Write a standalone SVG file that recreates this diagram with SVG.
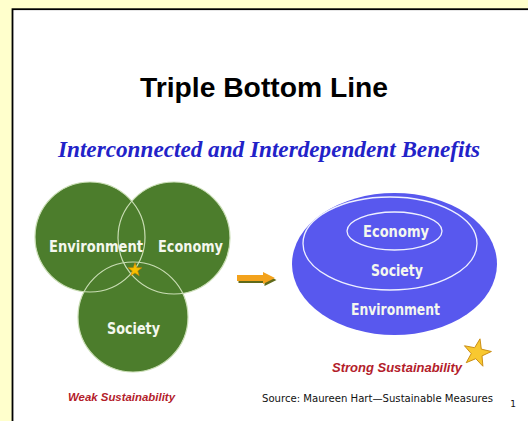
<svg xmlns="http://www.w3.org/2000/svg" width="528" height="421" viewBox="0 0 528 421">
<style>
.lbl{font-family:"DejaVu Sans Condensed","DejaVu Sans",sans-serif;font-weight:bold;fill:#f4f7ee;text-anchor:middle}
.venn{fill:#4c7d2c}
.vline{fill:none;stroke:#c9ddb4;stroke-width:1.2}
.sus{font-family:"Liberation Sans",Arial,sans-serif;font-weight:bold;font-style:italic;fill:#b3202a}
</style>
<defs>
<polygon id="star" points="0,-10 2.35,-3.24 9.51,-3.09 3.8,1.24 5.88,8.09 0,4 -5.88,8.09 -3.8,1.24 -9.51,-3.09 -2.35,-3.24"/>
</defs>
<rect x="0" y="0" width="528" height="421" fill="#ffffcc"/>
<rect x="12.5" y="9.2" width="530" height="430" fill="#ffffff" stroke="#000" stroke-width="1.8"/>
<g id="title">
<text x="264" y="97" font-family="Liberation Sans, Arial, sans-serif" font-weight="bold" font-size="27.5" text-anchor="middle" fill="#000" textLength="248" lengthAdjust="spacingAndGlyphs">Triple Bottom Line</text>
</g>
<g id="subtitle">
<text x="269" y="157" font-family="Liberation Serif, 'Times New Roman', serif" font-weight="bold" font-style="italic" font-size="23" text-anchor="middle" fill="#2222c8" textLength="422" lengthAdjust="spacingAndGlyphs">Interconnected and Interdependent Benefits</text>
</g>
<g id="weak-venn">
<circle class="venn" cx="90" cy="237" r="55"/>
<circle class="venn" cx="174" cy="238" r="56"/>
<circle class="venn" cx="133" cy="317" r="55"/>
<circle class="vline" cx="90" cy="237" r="55"/>
<circle class="vline" cx="174" cy="238" r="56"/>
<circle class="vline" cx="133" cy="317" r="55"/>
<use href="#star" transform="translate(135,270) scale(0.72)" fill="#f5c000" stroke="#d08000" stroke-width="0.8"/>
</g>
<g id="venn-environment">
<text class="lbl" x="96" y="251.5" font-size="15.5" textLength="94" lengthAdjust="spacingAndGlyphs">Environment</text>
</g>
<g id="venn-economy">
<text class="lbl" x="190.5" y="251.5" font-size="15.5" textLength="65" lengthAdjust="spacingAndGlyphs">Economy</text>
</g>
<g id="venn-society">
<text class="lbl" x="133.5" y="333.5" font-size="15.5" textLength="53" lengthAdjust="spacingAndGlyphs">Society</text>
</g>
<g id="connectors">
<polygon points="238.5,277 264.5,277 264.5,274 276.5,280 264.5,286 264.5,283 238.5,283" fill="#5f6a1a"/>
<polygon points="237,275 263,275 263,272 275,278 263,284 263,281 237,281" fill="#f3a21c"/>
</g>
<g id="strong-nested">
<ellipse cx="394.5" cy="264" rx="102.5" ry="71" fill="#5858ee"/>
<ellipse cx="390" cy="243.5" rx="87" ry="46.5" fill="none" stroke="#eef0ff" stroke-width="1.3"/>
<ellipse cx="394.5" cy="231" rx="47.5" ry="19" fill="none" stroke="#eef0ff" stroke-width="1.3"/>
</g>
<g id="nested-economy">
<text class="lbl" x="396" y="236.5" font-size="15.5" textLength="66" lengthAdjust="spacingAndGlyphs">Economy</text>
</g>
<g id="nested-society">
<text class="lbl" x="397" y="275.5" font-size="15.5" textLength="52" lengthAdjust="spacingAndGlyphs">Society</text>
</g>
<g id="nested-environment">
<text class="lbl" x="395.5" y="314.5" font-size="15.5" textLength="89" lengthAdjust="spacingAndGlyphs">Environment</text>
</g>
<g id="strong-star">
<use href="#star" transform="translate(477,353) rotate(12) scale(1.45)" fill="#f8c830" stroke="#c88a10" stroke-width="0.6"/>
</g>
<g id="weak-label">
<text class="sus" x="68" y="401" font-size="11.5" textLength="107" lengthAdjust="spacingAndGlyphs">Weak Sustainability</text>
</g>
<g id="strong-label">
<text class="sus" x="332" y="372" font-size="12.5" textLength="130" lengthAdjust="spacingAndGlyphs">Strong Sustainability</text>
</g>
<g id="source">
<text x="262" y="402" font-family="DejaVu Sans Condensed, DejaVu Sans, sans-serif" font-size="10.5" fill="#111" textLength="231" lengthAdjust="spacingAndGlyphs">Source: Maureen Hart—Sustainable Measures</text>
<text x="513" y="407" font-family="DejaVu Sans, sans-serif" font-size="9" fill="#111" text-anchor="middle">1</text>
</g>
</svg>
